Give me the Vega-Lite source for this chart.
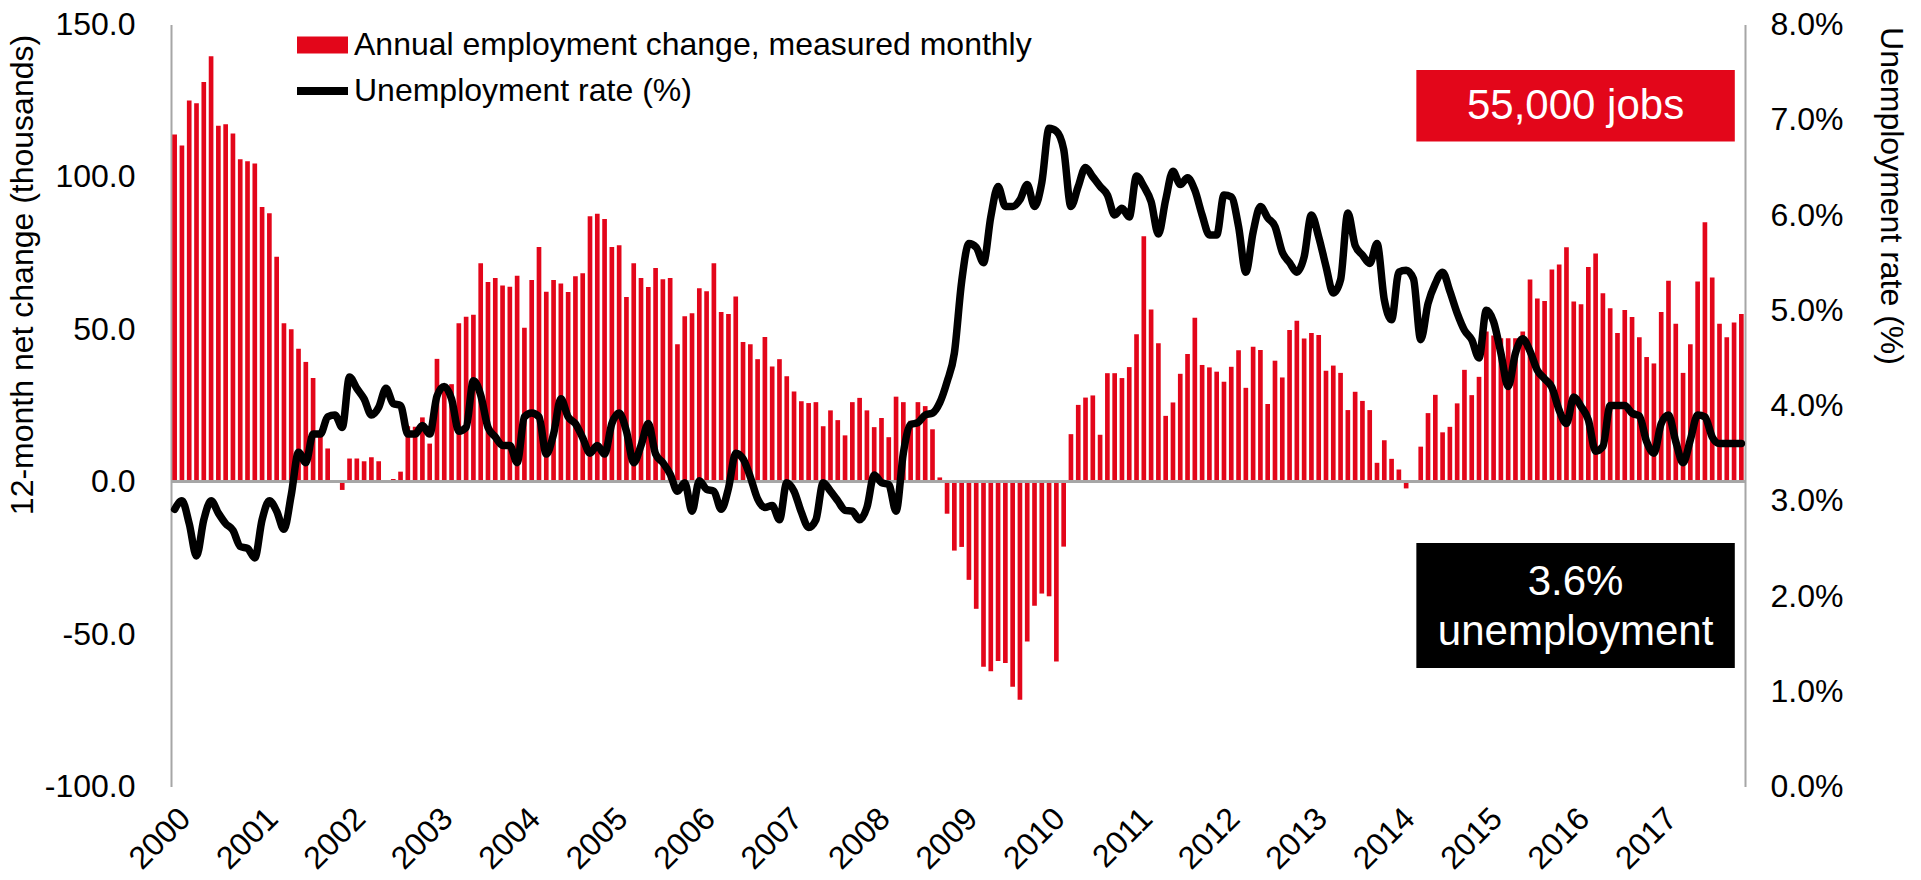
{
"$schema":"https://vega.github.io/schema/vega-lite/v6.json",
"width":1574,"height":762,
"autosize":{"type":"none"},
"padding":{"left":171,"top":24.5,"right":176,"bottom":93.5},
"background":"white",
"config":{"font":"Liberation Sans","view":{"stroke":null},"axis":{"grid":false,"ticks":false,"labelColor":"#000000","titleColor":"#000000","labelFont":"Liberation Sans","titleFont":"Liberation Sans"},"legend":{"labelFont":"Liberation Sans"}},
"data":{"values":[
{"month":"2000-01","jobs":113.9,"rate":2.91},{"month":"2000-02","jobs":110.3,"rate":3.00},{"month":"2000-03","jobs":125.1,"rate":2.76},{"month":"2000-04","jobs":124.2,"rate":2.42},{"month":"2000-05","jobs":131.1,"rate":2.80},{"month":"2000-06","jobs":139.6,"rate":3.00},{"month":"2000-07","jobs":116.8,"rate":2.87},{"month":"2000-08","jobs":117.3,"rate":2.76},{"month":"2000-09","jobs":114.2,"rate":2.69},{"month":"2000-10","jobs":105.8,"rate":2.52},{"month":"2000-11","jobs":105.1,"rate":2.50},{"month":"2000-12","jobs":104.4,"rate":2.40},
{"month":"2001-01","jobs":90.1,"rate":2.80},{"month":"2001-02","jobs":88.1,"rate":3.00},{"month":"2001-03","jobs":73.8,"rate":2.89},{"month":"2001-04","jobs":52.0,"rate":2.70},{"month":"2001-05","jobs":50.0,"rate":3.06},{"month":"2001-06","jobs":43.6,"rate":3.51},{"month":"2001-07","jobs":39.3,"rate":3.40},{"month":"2001-08","jobs":34.0,"rate":3.70},{"month":"2001-09","jobs":16.0,"rate":3.70},{"month":"2001-10","jobs":10.9,"rate":3.88},{"month":"2001-11","jobs":0.0,"rate":3.90},{"month":"2001-12","jobs":-2.7,"rate":3.77},
{"month":"2002-01","jobs":7.6,"rate":4.30},{"month":"2002-02","jobs":7.6,"rate":4.18},{"month":"2002-03","jobs":6.7,"rate":4.07},{"month":"2002-04","jobs":8.0,"rate":3.90},{"month":"2002-05","jobs":6.7,"rate":3.98},{"month":"2002-06","jobs":0.3,"rate":4.18},{"month":"2002-07","jobs":0.9,"rate":4.02},{"month":"2002-08","jobs":3.3,"rate":4.00},{"month":"2002-09","jobs":18.2,"rate":3.70},{"month":"2002-10","jobs":18.0,"rate":3.70},{"month":"2002-11","jobs":21.1,"rate":3.79},{"month":"2002-12","jobs":12.5,"rate":3.70},
{"month":"2003-01","jobs":40.3,"rate":4.10},{"month":"2003-02","jobs":30.0,"rate":4.20},{"month":"2003-03","jobs":32.0,"rate":4.07},{"month":"2003-04","jobs":52.0,"rate":3.73},{"month":"2003-05","jobs":54.1,"rate":3.77},{"month":"2003-06","jobs":54.8,"rate":4.26},{"month":"2003-07","jobs":71.7,"rate":4.11},{"month":"2003-08","jobs":65.5,"rate":3.77},{"month":"2003-09","jobs":66.8,"rate":3.67},{"month":"2003-10","jobs":64.4,"rate":3.58},{"month":"2003-11","jobs":64.0,"rate":3.58},{"month":"2003-12","jobs":67.6,"rate":3.40},
{"month":"2004-01","jobs":50.5,"rate":3.88},{"month":"2004-02","jobs":66.2,"rate":3.92},{"month":"2004-03","jobs":77.0,"rate":3.88},{"month":"2004-04","jobs":62.3,"rate":3.49},{"month":"2004-05","jobs":66.2,"rate":3.70},{"month":"2004-06","jobs":65.0,"rate":4.07},{"month":"2004-07","jobs":62.2,"rate":3.88},{"month":"2004-08","jobs":67.4,"rate":3.81},{"month":"2004-09","jobs":68.4,"rate":3.66},{"month":"2004-10","jobs":87.1,"rate":3.50},{"month":"2004-11","jobs":87.9,"rate":3.58},{"month":"2004-12","jobs":86.2,"rate":3.49},
{"month":"2005-01","jobs":77.0,"rate":3.81},{"month":"2005-02","jobs":77.6,"rate":3.92},{"month":"2005-03","jobs":60.6,"rate":3.73},{"month":"2005-04","jobs":71.7,"rate":3.40},{"month":"2005-05","jobs":66.8,"rate":3.58},{"month":"2005-06","jobs":63.9,"rate":3.81},{"month":"2005-07","jobs":70.1,"rate":3.49},{"month":"2005-08","jobs":66.4,"rate":3.40},{"month":"2005-09","jobs":66.8,"rate":3.28},{"month":"2005-10","jobs":45.1,"rate":3.10},{"month":"2005-11","jobs":54.3,"rate":3.19},{"month":"2005-12","jobs":55.3,"rate":2.89},
{"month":"2006-01","jobs":63.5,"rate":3.21},{"month":"2006-02","jobs":62.5,"rate":3.12},{"month":"2006-03","jobs":71.7,"rate":3.10},{"month":"2006-04","jobs":55.7,"rate":2.91},{"month":"2006-05","jobs":55.0,"rate":3.13},{"month":"2006-06","jobs":60.8,"rate":3.50},{"month":"2006-07","jobs":45.8,"rate":3.44},{"month":"2006-08","jobs":45.1,"rate":3.25},{"month":"2006-09","jobs":40.2,"rate":3.02},{"month":"2006-10","jobs":47.5,"rate":2.93},{"month":"2006-11","jobs":37.8,"rate":2.95},{"month":"2006-12","jobs":40.2,"rate":2.80},
{"month":"2007-01","jobs":34.6,"rate":3.19},{"month":"2007-02","jobs":29.6,"rate":3.10},{"month":"2007-03","jobs":26.4,"rate":2.88},{"month":"2007-04","jobs":25.8,"rate":2.72},{"month":"2007-05","jobs":26.1,"rate":2.80},{"month":"2007-06","jobs":18.2,"rate":3.19},{"month":"2007-07","jobs":23.4,"rate":3.10},{"month":"2007-08","jobs":20.2,"rate":3.00},{"month":"2007-09","jobs":15.2,"rate":2.90},{"month":"2007-10","jobs":26.1,"rate":2.89},{"month":"2007-11","jobs":27.5,"rate":2.80},{"month":"2007-12","jobs":23.4,"rate":2.93},
{"month":"2008-01","jobs":17.9,"rate":3.27},{"month":"2008-02","jobs":20.9,"rate":3.19},{"month":"2008-03","jobs":14.6,"rate":3.17},{"month":"2008-04","jobs":27.9,"rate":2.89},{"month":"2008-05","jobs":26.1,"rate":3.50},{"month":"2008-06","jobs":20.0,"rate":3.80},{"month":"2008-07","jobs":26.1,"rate":3.82},{"month":"2008-08","jobs":24.8,"rate":3.90},{"month":"2008-09","jobs":17.2,"rate":3.92},{"month":"2008-10","jobs":1.4,"rate":4.03},{"month":"2008-11","jobs":-10.5,"rate":4.25},{"month":"2008-12","jobs":-22.6,"rate":4.55},
{"month":"2009-01","jobs":-21.4,"rate":5.30},{"month":"2009-02","jobs":-32.2,"rate":5.70},{"month":"2009-03","jobs":-41.7,"rate":5.66},{"month":"2009-04","jobs":-60.7,"rate":5.50},{"month":"2009-05","jobs":-62.2,"rate":5.98},{"month":"2009-06","jobs":-58.8,"rate":6.30},{"month":"2009-07","jobs":-59.5,"rate":6.09},{"month":"2009-08","jobs":-67.3,"rate":6.09},{"month":"2009-09","jobs":-71.5,"rate":6.16},{"month":"2009-10","jobs":-52.4,"rate":6.32},{"month":"2009-11","jobs":-40.7,"rate":6.09},{"month":"2009-12","jobs":-36.7,"rate":6.34},
{"month":"2010-01","jobs":-37.6,"rate":6.91},{"month":"2010-02","jobs":-59.0,"rate":6.88},{"month":"2010-03","jobs":-21.3,"rate":6.69},{"month":"2010-04","jobs":15.6,"rate":6.09},{"month":"2010-05","jobs":25.2,"rate":6.30},{"month":"2010-06","jobs":27.6,"rate":6.50},{"month":"2010-07","jobs":28.3,"rate":6.40},{"month":"2010-08","jobs":15.4,"rate":6.30},{"month":"2010-09","jobs":35.6,"rate":6.21},{"month":"2010-10","jobs":35.6,"rate":6.00},{"month":"2010-11","jobs":34.0,"rate":6.07},{"month":"2010-12","jobs":37.6,"rate":5.98},
{"month":"2011-01","jobs":48.4,"rate":6.41},{"month":"2011-02","jobs":80.5,"rate":6.30},{"month":"2011-03","jobs":56.5,"rate":6.14},{"month":"2011-04","jobs":45.4,"rate":5.80},{"month":"2011-05","jobs":21.6,"rate":6.16},{"month":"2011-06","jobs":26.0,"rate":6.46},{"month":"2011-07","jobs":35.4,"rate":6.32},{"month":"2011-08","jobs":41.9,"rate":6.39},{"month":"2011-09","jobs":53.8,"rate":6.26},{"month":"2011-10","jobs":38.3,"rate":6.00},{"month":"2011-11","jobs":37.5,"rate":5.79},{"month":"2011-12","jobs":36.1,"rate":5.79},
{"month":"2012-01","jobs":32.8,"rate":6.21},{"month":"2012-02","jobs":37.7,"rate":6.19},{"month":"2012-03","jobs":43.1,"rate":5.88},{"month":"2012-04","jobs":30.8,"rate":5.40},{"month":"2012-05","jobs":44.3,"rate":5.82},{"month":"2012-06","jobs":43.2,"rate":6.09},{"month":"2012-07","jobs":25.5,"rate":5.97},{"month":"2012-08","jobs":39.7,"rate":5.88},{"month":"2012-09","jobs":34.2,"rate":5.61},{"month":"2012-10","jobs":49.8,"rate":5.50},{"month":"2012-11","jobs":52.8,"rate":5.40},{"month":"2012-12","jobs":47.0,"rate":5.56},
{"month":"2013-01","jobs":48.8,"rate":6.00},{"month":"2013-02","jobs":48.1,"rate":5.77},{"month":"2013-03","jobs":36.4,"rate":5.46},{"month":"2013-04","jobs":38.1,"rate":5.18},{"month":"2013-05","jobs":35.7,"rate":5.32},{"month":"2013-06","jobs":23.5,"rate":6.02},{"month":"2013-07","jobs":29.5,"rate":5.68},{"month":"2013-08","jobs":26.5,"rate":5.58},{"month":"2013-09","jobs":23.5,"rate":5.49},{"month":"2013-10","jobs":6.2,"rate":5.70},{"month":"2013-11","jobs":13.6,"rate":5.11},{"month":"2013-12","jobs":7.5,"rate":4.90},
{"month":"2014-01","jobs":4.0,"rate":5.40},{"month":"2014-02","jobs":-2.2,"rate":5.42},{"month":"2014-03","jobs":-0.4,"rate":5.33},{"month":"2014-04","jobs":11.5,"rate":4.69},{"month":"2014-05","jobs":22.5,"rate":5.07},{"month":"2014-06","jobs":28.5,"rate":5.28},{"month":"2014-07","jobs":16.2,"rate":5.40},{"month":"2014-08","jobs":18.0,"rate":5.20},{"month":"2014-09","jobs":25.7,"rate":4.97},{"month":"2014-10","jobs":36.7,"rate":4.79},{"month":"2014-11","jobs":28.4,"rate":4.69},{"month":"2014-12","jobs":34.4,"rate":4.50},
{"month":"2015-01","jobs":49.3,"rate":5.00},{"month":"2015-02","jobs":48.0,"rate":4.88},{"month":"2015-03","jobs":47.1,"rate":4.55},{"month":"2015-04","jobs":47.1,"rate":4.20},{"month":"2015-05","jobs":47.1,"rate":4.55},{"month":"2015-06","jobs":49.3,"rate":4.70},{"month":"2015-07","jobs":66.3,"rate":4.57},{"month":"2015-08","jobs":60.1,"rate":4.37},{"month":"2015-09","jobs":59.3,"rate":4.28},{"month":"2015-10","jobs":69.6,"rate":4.19},{"month":"2015-11","jobs":71.3,"rate":3.95},{"month":"2015-12","jobs":76.9,"rate":3.81},
{"month":"2016-01","jobs":59.1,"rate":4.09},{"month":"2016-02","jobs":58.2,"rate":3.99},{"month":"2016-03","jobs":70.4,"rate":3.85},{"month":"2016-04","jobs":74.9,"rate":3.52},{"month":"2016-05","jobs":61.8,"rate":3.57},{"month":"2016-06","jobs":56.9,"rate":4.00},{"month":"2016-07","jobs":48.8,"rate":4.00},{"month":"2016-08","jobs":56.3,"rate":4.00},{"month":"2016-09","jobs":54.0,"rate":3.92},{"month":"2016-10","jobs":47.4,"rate":3.89},{"month":"2016-11","jobs":40.9,"rate":3.62},{"month":"2016-12","jobs":38.8,"rate":3.50},
{"month":"2017-01","jobs":55.7,"rate":3.81},{"month":"2017-02","jobs":65.9,"rate":3.90},{"month":"2017-03","jobs":51.8,"rate":3.62},{"month":"2017-04","jobs":35.7,"rate":3.40},{"month":"2017-05","jobs":45.1,"rate":3.64},{"month":"2017-06","jobs":65.7,"rate":3.90},{"month":"2017-07","jobs":85.1,"rate":3.88},{"month":"2017-08","jobs":67.0,"rate":3.67},{"month":"2017-09","jobs":51.8,"rate":3.60},{"month":"2017-10","jobs":47.4,"rate":3.60},{"month":"2017-11","jobs":52.2,"rate":3.60},{"month":"2017-12","jobs":55.0,"rate":3.60}
]},
"layer":[
{"mark":{"type":"bar"},
 "encoding":{
  "x":{"field":"month","type":"ordinal","scale":{"paddingInner":0.36,"paddingOuter":0.18},
       "axis":{"values":["2000-01","2001-01","2002-01","2003-01","2004-01","2005-01","2006-01","2007-01","2008-01","2009-01","2010-01","2011-01","2012-01","2013-01","2014-01","2015-01","2016-01","2017-01"],
               "labelExpr":"substring(datum.value,0,4)","labelAngle":-45,"labelFontSize":32,"labelPadding":16,"domain":false,"ticks":false,"title":null}},
  "y":{"field":"jobs","type":"quantitative","scale":{"domain":[-100,150],"nice":false},
       "axis":{"values":[-100,-50,0,50,100,150],"labelExpr":"replace(format(datum.value,'.1f'),'\u2212','-')","labelFontSize":32,"labelPadding":36,"domainColor":"#a6a6a6","domainWidth":2,
               "title":"12-month net change (thousands)","titleFontSize":32,"titleFontWeight":"normal","titleAngle":-90,"titleX":-149,"titleY":250,"titleBaseline":"middle","titleAlign":"center"}},
  "fill":{"datum":"Annual employment change, measured monthly","type":"nominal","scale":{"range":["#e3061a"]},
       "legend":{"orient":"none","legendX":126,"legendY":-5,"title":null,"labelFontSize":32,"labelLimit":0,"labelColor":"#000000","symbolType":"M-1,-0.333H1V0.333H-1Z","symbolSize":2601,"symbolStrokeWidth":0,"labelOffset":6,"padding":0}}
 }},
{"mark":{"type":"rule","color":"#a6a6a6","strokeWidth":2},
 "encoding":{"y":{"datum":0,"type":"quantitative","scale":{"domain":[-100,150],"nice":false},"axis":null}}},
{"mark":{"type":"line","interpolate":"monotone","strokeWidth":7.5,"strokeCap":"round","strokeJoin":"round"},
 "encoding":{
  "x":{"field":"month","type":"ordinal","axis":null},
  "y":{"field":"rate","type":"quantitative","scale":{"domain":[0,8],"nice":false,"zero":false},
       "axis":{"orient":"right","values":[0,1,2,3,4,5,6,7,8],"labelExpr":"format(datum.value,'.1f')+'%'","labelFontSize":32,"labelPadding":25,"domainColor":"#a6a6a6","domainWidth":2,
               "title":"Unemployment rate (%)","titleFontSize":32,"titleFontWeight":"normal","titleAngle":90,"titleX":145,"titleY":171,"titleBaseline":"middle","titleAlign":"center"}},
  "stroke":{"datum":"Unemployment rate (%)","type":"nominal","scale":{"range":["#000000"]},
       "legend":{"orient":"none","legendX":122,"legendY":37,"title":null,"labelFontSize":32,"labelLimit":0,"labelColor":"#000000","symbolType":"stroke","symbolSize":2601,"symbolStrokeWidth":8,"labelOffset":2,"padding":0}}
 }},
{"data":{"values":[{"label":"55,000 jobs"}]},
 "mark":{"type":"rect","color":"#e3061a"},
 "encoding":{
  "x":{"datum":170.9,"type":"quantitative","scale":{"domain":[0,216],"nice":false,"zero":false},"axis":null},
  "x2":{"datum":214.6},
  "y":{"datum":135.1,"type":"quantitative","scale":{"domain":[-100,150],"nice":false},"axis":null},
  "y2":{"datum":111.6}}},
{"data":{"values":[{"label":"55,000 jobs"}]},
 "mark":{"type":"text","color":"#ffffff","fontSize":42,"align":"center","baseline":"middle"},
 "encoding":{
  "x":{"datum":192.75,"type":"quantitative","scale":{"domain":[0,216],"nice":false,"zero":false},"axis":null},
  "y":{"datum":123.3,"type":"quantitative","scale":{"domain":[-100,150],"nice":false},"axis":null},
  "text":{"field":"label"}}},
{"data":{"values":[{"label":"3.6%\nunemployment"}]},
 "mark":{"type":"rect","color":"#000000"},
 "encoding":{
  "x":{"datum":170.9,"type":"quantitative","scale":{"domain":[0,216],"nice":false,"zero":false},"axis":null},
  "x2":{"datum":214.6},
  "y":{"datum":-20.1,"type":"quantitative","scale":{"domain":[-100,150],"nice":false},"axis":null},
  "y2":{"datum":-61.1}}},
{"data":{"values":[{"label":"3.6%\nunemployment"}]},
 "mark":{"type":"text","color":"#ffffff","fontSize":42,"align":"center","baseline":"middle","lineBreak":"\n","lineHeight":50},
 "encoding":{
  "x":{"datum":192.75,"type":"quantitative","scale":{"domain":[0,216],"nice":false,"zero":false},"axis":null},
  "y":{"datum":-33.0,"type":"quantitative","scale":{"domain":[-100,150],"nice":false},"axis":null},
  "text":{"field":"label"}}}
],
"resolve":{"scale":{"x":"independent","y":"independent"}}
}
